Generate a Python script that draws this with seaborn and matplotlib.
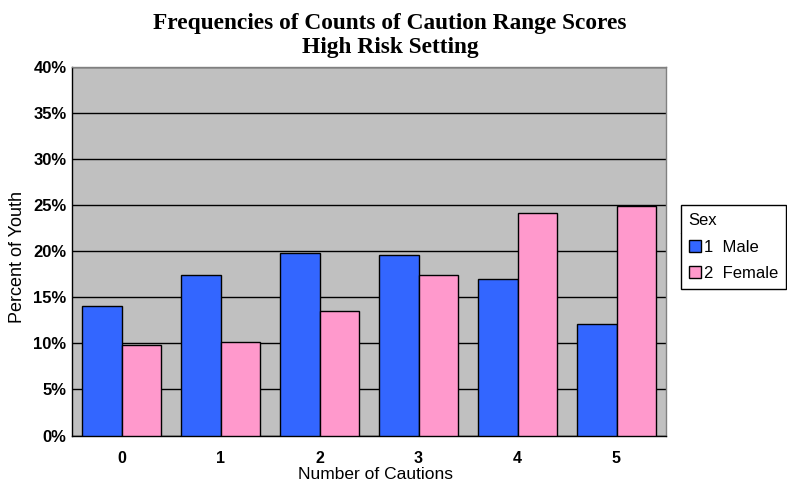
import matplotlib
matplotlib.use("Agg")
import matplotlib.pyplot as plt
from matplotlib.lines import Line2D
from matplotlib.ticker import FixedLocator, FuncFormatter
import seaborn as sns
import pandas as pd

# Percent of youth by number of cautions, split by sex
cautions = ["0", "1", "2", "3", "4", "5"]
male_pct = [14.1, 17.4, 19.8, 19.6, 17.0, 12.1]
female_pct = [9.8, 10.2, 13.5, 17.4, 24.2, 24.9]
sex_labels = ["1  Male", "2  Female"]
y_ticks = [0, 5, 10, 15, 20, 25, 30, 35, 40]

df = pd.DataFrame({
    "Number of Cautions": cautions * 2,
    "Percent": male_pct + female_pct,
    "Sex": [sex_labels[0]] * len(cautions) + [sex_labels[1]] * len(cautions),
})

sns.set_theme(style="white")
plt.rcParams["font.family"] = ["Liberation Sans", "DejaVu Sans"]
plt.rcParams.update({"text.color": "black", "axes.labelcolor": "black",
                     "xtick.color": "black", "ytick.color": "black"})

W, H = 787, 494
fig = plt.figure(figsize=(W / 100, H / 100), dpi=100)
ax = fig.add_axes([72 / W, (H - 435.5) / H, (666 - 72) / W, (435.5 - 67) / H])
ax.set_facecolor("#C0C0C0")

palette = {sex_labels[0]: "#3366FF", sex_labels[1]: "#FF99CC"}
sns.barplot(data=df, x="Number of Cautions", y="Percent", hue="Sex",
            order=cautions, hue_order=sex_labels, palette=palette,
            saturation=1, width=0.8, edgecolor="black", linewidth=1.0,
            errorbar=None, ax=ax, zorder=3)

ax.set_xlim(-0.5, len(cautions) - 0.5)
ax.set_ylim(0, 40)
ax.yaxis.set_major_locator(FixedLocator(y_ticks))
ax.yaxis.set_major_formatter(FuncFormatter(lambda v, p: f"{int(v)}%"))
ax.grid(axis="y", color="black", linewidth=1.0, zorder=1)
ax.set_axisbelow(True)

# x ticks sit between categories, labels at category centres
ax.set_xticks(range(len(cautions)))
ax.set_xticklabels(cautions, fontweight="bold", fontsize=11.5)
ax.set_xticks([i - 0.5 for i in range(len(cautions) + 1)], minor=True)
ax.tick_params(axis="x", which="major", length=0, pad=11.5)
ax.tick_params(axis="x", which="minor", length=5, width=1, color="black", direction="out")
ax.tick_params(axis="y", length=4, width=1, color="black", direction="out", pad=0,
               labelsize=12)
for lbl in ax.get_yticklabels():
    lbl.set_fontweight("bold")

for side in ["left", "bottom"]:
    ax.spines[side].set_color("black")
    ax.spines[side].set_linewidth(1.0)
for side in ["top", "right"]:
    ax.spines[side].set_color("#808080")
    ax.spines[side].set_linewidth(1.0)

ax.set_xlabel("Number of Cautions", fontsize=12.5)
ax.set_ylabel("Percent of Youth", fontsize=13)
ax.xaxis.set_label_coords((375 - 72) / 594, (435.5 - 466.5) / 368.5)
ax.yaxis.set_label_coords((26.5 - 72) / 594, (435.5 - 257) / 368.5)

# Two-line title
title_font = dict(family=["Liberation Serif", "DejaVu Serif"], fontweight="bold",
                  fontsize=16.8, ha="center", va="baseline", color="black")
fig.text(390 / W, (H - 29) / H, "Frequencies of Counts of Caution Range Scores", **title_font)
fig.text(390 / W, (H - 53) / H, "High Risk Setting", **title_font)

# Legend with a titled box on the right
ax.get_legend().remove()
handles = [plt.Rectangle((0, 0), 1, 1, facecolor=palette[s], edgecolor="black", linewidth=1)
           for s in sex_labels]
leg = fig.legend(handles, sex_labels, title="Sex", loc="upper left",
                 bbox_to_anchor=(680.5 / W, (H - 205) / H, (786 - 680.5) / W, 0.0),
                 mode="expand", fontsize=12, title_fontsize=12,
                 frameon=True, fancybox=False, edgecolor="black", framealpha=1,
                 borderaxespad=0, handlelength=0.72, handleheight=0.72,
                 handletextpad=0.22, borderpad=0.48, labelspacing=0.69)
leg.get_frame().set_linewidth(1.0)
leg._legend_box.align = "left"
fig.add_artist(Line2D([680.5 / W, 786 / W], [(H - 232.7) / H] * 2,
                      color="black", linewidth=1.0, transform=fig.transFigure))

fig.savefig("out.png", dpi=100)
